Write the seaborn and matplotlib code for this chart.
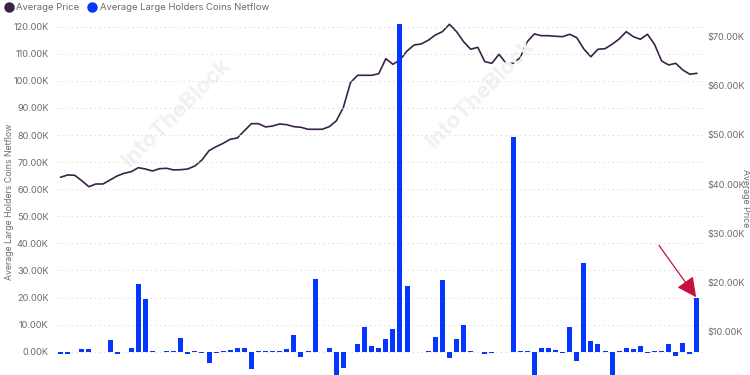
import numpy as np
import pandas as pd
import matplotlib
matplotlib.use("Agg")
import matplotlib.pyplot as plt
from matplotlib.lines import Line2D
from matplotlib.ticker import FuncFormatter, MultipleLocator
import seaborn as sns

# ---- data (values in thousands) ----
netflow_k = [
    -0.7, -1.0, 0.0, 1.1, 0.9, 0.0, 0.0, 4.2, -0.7, 0.0,
    1.35, 25.0, 19.3, 0.2, 0.0, 0.4, 0.4, 5.1, -0.7, 0.4,
    -0.4, -4.3, -0.6, 0.2, 0.5, 1.5, 1.2, -6.3, 0.1, 0.1,
    0.2, 0.3, 1.0, 6.3, -2.1, 0.1, 26.8, 0.0, 1.5, -10.0,
    -6.0, 0.0, 2.7, 9.0, 2.1, 1.5, 4.6, 8.3, 121.0, 24.2,
    -0.1, -0.1, 0.2, 5.5, 26.5, -2.2, 4.6, 9.7, 0.2, -0.2,
    -0.7, -0.6, 0.0, 0.0, 79.3, 0.3, 0.1, -12.0, 1.5, 1.5,
    0.6, -0.3, 9.0, -3.3, 32.6, 3.8, 2.8, 0.1, -12.0, 0.1,
    1.5, 0.9, 2.1, -0.3, 0.3, 0.3, 2.9, -1.6, 3.4, -1.0,
    19.7,
]
price_k = [
    41.38, 41.85, 41.79, 40.69, 39.47, 40.02, 40.02, 40.83, 41.65, 42.20,
    42.52, 43.33, 43.07, 42.66, 43.13, 43.21, 42.87, 42.93, 43.07, 43.68,
    44.90, 46.79, 47.60, 48.29, 49.11, 49.37, 50.85, 52.28, 52.28, 51.61,
    51.81, 52.22, 52.07, 51.67, 51.54, 51.14, 51.14, 51.14, 51.67, 52.85,
    55.60, 60.61, 62.11, 62.11, 62.11, 62.44, 65.49, 64.35, 65.22, 67.05,
    68.27, 68.48, 69.23, 70.30, 70.98, 72.48, 70.98, 68.94, 67.40, 67.80,
    64.88, 64.55, 66.38, 64.55, 64.55, 65.69, 68.94, 70.51, 70.16, 70.16,
    70.04, 69.96, 70.45, 69.76, 67.46, 65.89, 67.40, 67.52, 68.41, 69.49,
    70.98, 69.96, 69.43, 70.45, 68.41, 65.02, 64.21, 64.55, 63.19, 62.32,
    62.52,
]
day_index = list(range(len(netflow_k)))
series_names = ["Average Price", "Average Large Holders Coins Netflow"]
left_label = "Average Large Holders Coins Netflow"
right_label = "Average Price"

df = pd.DataFrame({"day": day_index, "netflow": netflow_k, "price": price_k})

BLUE = "#0436ff"
PURPLE = "#3b2247"
GRID = "#dcdcdc"
TXT = "#6b6b6b"

sns.set_theme(style="white")
plt.rcParams["font.family"] = ["Inter", "DejaVu Sans"]

fig = plt.figure(figsize=(7.5, 3.75), dpi=100)
ax = fig.add_axes([0.076, 0.0, 0.8613, 0.9627])
ax2 = ax.twinx()

# faint watermarks (behind everything)
for (wx, wy) in [(0.235, 0.70), (0.64, 0.75)]:
    fig.text(wx, wy, "IntoTheBlock", fontsize=16, color="#f1f1f1", rotation=45,
             ha="center", va="center", zorder=0, fontweight="bold")

# bars
sns.barplot(data=df, x="day", y="netflow", ax=ax, color=BLUE, width=0.7,
            saturation=1, edgecolor="none", zorder=3)
# price line
sns.lineplot(data=df, x="day", y="price", ax=ax2, color=PURPLE, linewidth=1.2)

ax.set_xlim(-0.5, 90.85)
ax.set_ylim(-8.6, 124.7)
ax2.set_ylim(1.2, 74.57)

ax.yaxis.set_major_locator(MultipleLocator(10))
ax.yaxis.set_major_formatter(FuncFormatter(lambda v, p: f"{v:.2f}K"))
ax2.yaxis.set_major_locator(MultipleLocator(10))
ax2.yaxis.set_major_formatter(FuncFormatter(lambda v, p: f"${v:.2f}K"))

for a in (ax, ax2):
    for s in a.spines.values():
        s.set_visible(False)
    a.set_xticks([])
    a.set_xlabel("")
    a.tick_params(axis="y", length=0, labelsize=6.6, colors=TXT)

ax.tick_params(axis="y", pad=6)
ax2.tick_params(axis="y", pad=3)

ax.grid(axis="y", color=GRID, linestyle=(0, (1.2, 3.0)), linewidth=0.8)
ax.set_axisbelow(True)

ax.set_ylabel(left_label, fontsize=6.3, color=TXT)
ax2.set_ylabel(right_label, fontsize=6.3, color=TXT, rotation=270, va="bottom")
ax.yaxis.set_label_coords(-0.066, 0.48)
ax2.yaxis.set_label_coords(1.0595, 0.49)

# bars above the line
ax.set_zorder(ax2.get_zorder() + 1)
ax.patch.set_visible(False)

# arrow pointing at the last bar
ax.annotate("", xy=(day_index[-1], netflow_k[-1]), xycoords="data",
            xytext=(-38, 53), textcoords="offset pixels",
            arrowprops=dict(arrowstyle="-|>,head_length=1.0,head_width=0.5",
                            color="#c8103f", lw=0.9, shrinkA=0, shrinkB=1),
            zorder=6)

# legend
handles = [
    Line2D([], [], marker="o", linestyle="", markersize=6.5, color=PURPLE),
    Line2D([], [], marker="o", linestyle="", markersize=6.5, color=BLUE),
]
fig.legend(handles, series_names, loc="upper left", bbox_to_anchor=(-0.004, 1.012),
           ncol=2, frameon=False, fontsize=6.8, handlelength=0.9,
           handletextpad=0.35, columnspacing=0.9, labelcolor=TXT, borderpad=0.3)

fig.savefig("out.png", dpi=100)
